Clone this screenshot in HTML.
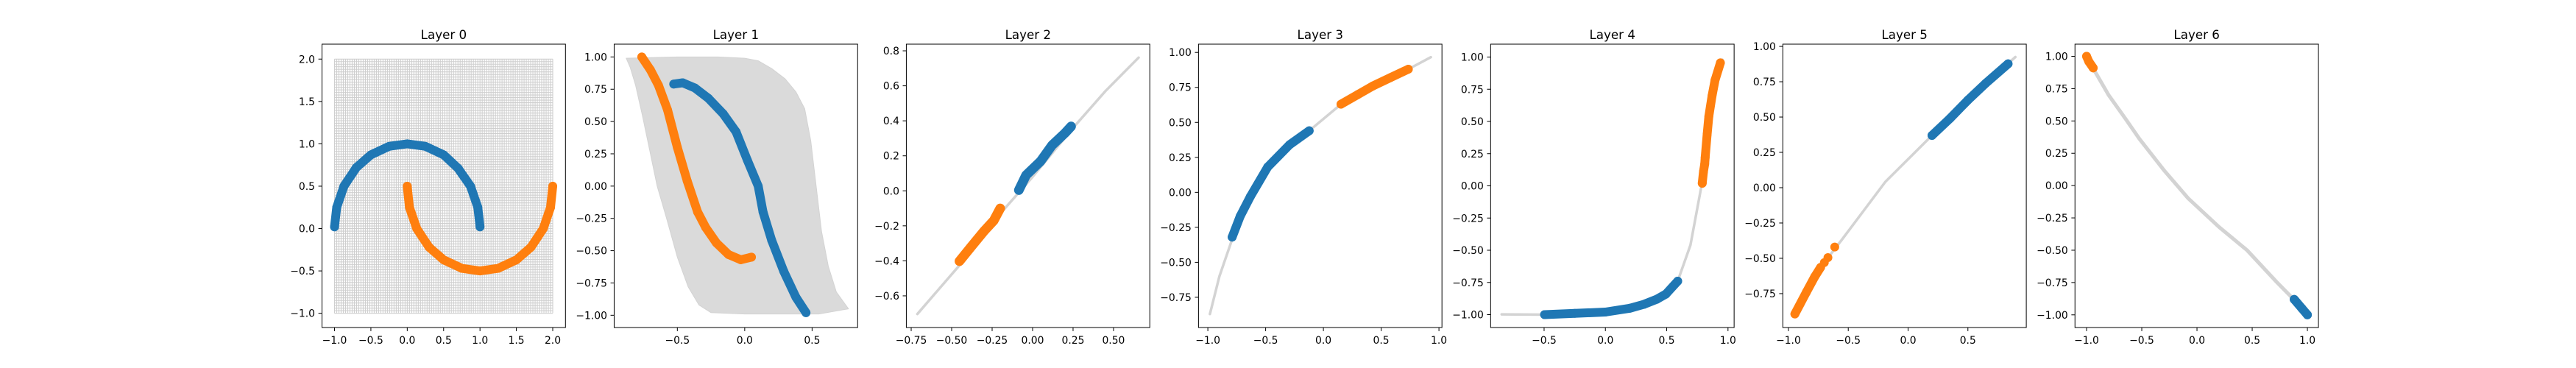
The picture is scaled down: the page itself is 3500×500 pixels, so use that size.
<!DOCTYPE html>
<html><head><meta charset="utf-8">
<style>
html,body{margin:0;padding:0;background:#fff;}
svg{display:block;font-family:"DejaVu Sans","Liberation Sans",sans-serif;}
</style></head>
<body>
<svg id="fig" width="3500" height="500" xmlns="http://www.w3.org/2000/svg"></svg>
<script>
// ---- data ----
const panelTitles = ["Layer 0","Layer 1","Layer 2","Layer 3","Layer 4","Layer 5","Layer 6"];
const xLims = [[-1.172,2.175],[-0.969,0.838],[-0.780,0.724],[-1.081,1.026],[-0.936,1.05],[-1.047,0.988],[-1.105,1.10]];
const yLims = [[-1.168,2.176],[-1.095,1.099],[-0.781,0.838],[-0.966,1.059],[-1.10,1.10],[-0.990,1.016],[-1.098,1.094]];
const xTicks = [[-1,-0.5,0,0.5,1,1.5,2],[-0.5,0,0.5],[-0.75,-0.5,-0.25,0,0.25,0.5],[-1,-0.5,0,0.5,1],[-0.5,0,0.5,1],[-1,-0.5,0,0.5],[-1,-0.5,0,0.5,1]];
const yTicks = [[-1,-0.5,0,0.5,1,1.5,2],[-1,-0.75,-0.5,-0.25,0,0.25,0.5,0.75,1],[-0.6,-0.4,-0.2,0,0.2,0.4,0.6,0.8],[-0.75,-0.5,-0.25,0,0.25,0.5,0.75,1],[-1,-0.75,-0.5,-0.25,0,0.25,0.5,0.75,1],[-0.75,-0.5,-0.25,0,0.25,0.5,0.75,1],[-1,-0.75,-0.5,-0.25,0,0.25,0.5,0.75,1]];
const xDigits = [1,1,2,1,1,1,1];
const yDigits = [1,2,1,2,2,2,2];

const blue0 = [[-1,0.02],[-0.97,0.25],[-0.87,0.5],[-0.7,0.72],[-0.5,0.87],[-0.25,0.97],[0,1.0],[0.25,0.97],[0.5,0.87],[0.7,0.71],[0.87,0.5],[0.97,0.25],[1.0,0.02]];
const orange0 = [[0,0.5],[0.03,0.25],[0.13,0],[0.3,-0.22],[0.5,-0.37],[0.75,-0.47],[1,-0.5],[1.25,-0.47],[1.5,-0.37],[1.7,-0.22],[1.87,0],[1.97,0.25],[2.0,0.5]];
const blue1 = [[-0.527,0.79],[-0.46,0.8],[-0.37,0.76],[-0.27,0.68],[-0.16,0.56],[-0.064,0.42],[0.02,0.2],[0.1,0.0],[0.136,-0.2],[0.2,-0.42],[0.29,-0.66],[0.38,-0.86],[0.455,-0.98]];
const orange1 = [[-0.764,1.0],[-0.7,0.9],[-0.64,0.78],[-0.573,0.59],[-0.5,0.3],[-0.427,0.04],[-0.35,-0.2],[-0.29,-0.32],[-0.21,-0.44],[-0.12,-0.53],[-0.03,-0.57],[0.05,-0.55]];
const sheet1 = [[-0.88,0.99],[-0.5,1.0],[-0.2,1.0],[0.0,0.99],[0.1,0.97],[0.2,0.91],[0.3,0.83],[0.38,0.73],[0.445,0.6],[0.49,0.35],[0.53,0.0],[0.57,-0.35],[0.62,-0.62],[0.68,-0.82],[0.77,-0.95],[0.55,-0.99],[0.3,-0.99],[0.0,-0.99],[-0.25,-0.98],[-0.34,-0.92],[-0.42,-0.78],[-0.5,-0.55],[-0.58,-0.25],[-0.65,0.0],[-0.71,0.3],[-0.76,0.55],[-0.81,0.78],[-0.85,0.92]];
const gray2 = [[-0.712,-0.704],[-0.4,-0.37],[-0.19,-0.12],[0,0.08],[0.25,0.36],[0.45,0.57],[0.655,0.761]];
const blue2 = [[-0.085,0.004],[-0.04,0.09],[0.05,0.17],[0.12,0.26],[0.2,0.33],[0.238,0.368]];
const orange2 = [[-0.452,-0.402],[-0.38,-0.32],[-0.30,-0.23],[-0.24,-0.17],[-0.2,-0.10]];
const gray3 = [[-0.982,-0.87],[-0.9,-0.6],[-0.8,-0.36],[-0.632,-0.03],[-0.483,0.18],[-0.293,0.34],[-0.123,0.44],[0.152,0.63],[0.428,0.76],[0.735,0.88],[0.93,0.966]];
const blue3 = [[-0.79,-0.32],[-0.72,-0.17],[-0.632,-0.03],[-0.483,0.18],[-0.293,0.34],[-0.123,0.44]];
const orange3 = [[0.152,0.63],[0.3,0.7],[0.428,0.76],[0.58,0.82],[0.735,0.88]];
const gray4 = [[-0.846,-0.998],[-0.496,-1.0],[0,-0.98],[0.314,-0.92],[0.494,-0.84],[0.59,-0.74],[0.694,-0.46],[0.784,0.0],[0.814,0.22],[0.844,0.54],[0.894,0.82],[0.954,0.98]];
const blue4 = [[-0.496,-1.0],[-0.25,-0.99],[0,-0.98],[0.2,-0.95],[0.314,-0.92],[0.42,-0.88],[0.494,-0.84],[0.59,-0.74]];
const orange4 = [[0.79,0.02],[0.8,0.11],[0.81,0.17],[0.814,0.22],[0.83,0.4],[0.844,0.54],[0.87,0.7],[0.894,0.82],[0.938,0.955]];
const gray5 = [[-0.946,-0.894],[-0.731,-0.564],[-0.555,-0.37],[-0.188,0.043],[0.2,0.37],[0.5,0.63],[0.897,0.925]];
const blue5 = [[0.2,0.37],[0.35,0.49],[0.5,0.62],[0.65,0.74],[0.836,0.877]];
const orange5 = [[-0.946,-0.894],[-0.85,-0.74],[-0.78,-0.63],[-0.731,-0.564]];
const orangeDots5 = [[-0.67,-0.495],[-0.613,-0.42],[-0.70,-0.53]];
const gray6 = [[-0.943,0.91],[-0.8,0.7],[-0.65,0.52],[-0.52,0.36],[-0.3,0.12],[-0.078,-0.1],[0.2,-0.32],[0.454,-0.5],[0.72,-0.745],[0.876,-0.88]];
const blue6 = [[0.88,-0.88],[0.95,-0.95],[1.0,-1.0]];
const orange6 = [[-1.0,1.0],[-0.98,0.96],[-0.94,0.91]];
const gridCount = 100;

// ---- drawing ----
const NS = "http://www.w3.org/2000/svg";
const svg = document.getElementById("fig");
const BLUE = "#1f77b4", ORANGE = "#ff7f0e", GRAY = "#d3d3d3";
const AX_W = 330.8, AX_H = 385, TOP = 60;
function mk(tag, attrs, parent){ const e = document.createElementNS(NS, tag); for (const k in attrs) e.setAttribute(k, attrs[k]); (parent||svg).appendChild(e); return e; }
function fmt(v,d){ return v.toFixed(d).replace("-", "\u2212"); }

for (let i = 0; i < 7; i++) {
  const L = 437.5 + i * 396.96;
  const xl = xLims[i], yl = yLims[i];
  const sx = v => L + (v - xl[0]) / (xl[1] - xl[0]) * AX_W;
  const sy = v => TOP + AX_H - (v - yl[0]) / (yl[1] - yl[0]) * AX_H;
  const g = mk("g", {});
  
  
  const clipId = "clip" + i;
  const cp = mk("clipPath", {id: clipId}, g);
  mk("rect", {x: L, y: TOP, width: AX_W, height: AX_H}, cp);
  const plot = mk("g", {"clip-path": "url(#" + clipId + ")"}, g);
  
  
  const pts = arr => arr.map(p => sx(p[0]).toFixed(1) + "," + sy(p[1]).toFixed(1)).join(" ");
  function line(arr, color, w, name) {
    const e = mk("polyline", {points: pts(arr), fill: "none", stroke: color, "stroke-width": w, "stroke-linecap": "round", "stroke-linejoin": "round"}, plot);
    
    
  }
  function dots(arr, color, r, name) {
    arr.forEach(p => {
      const c = mk("circle", {cx: sx(p[0]), cy: sy(p[1]), r: r, fill: color}, plot);
      
      
    });
  }
  if (i === 0) {
    for (let k = 0; k < gridCount; k++) {
      const v = -1 + 3 * k / (gridCount - 1);
      const a = mk("line", {x1: sx(v), x2: sx(v), y1: sy(-1), y2: sy(2), stroke: "#cfcfcf", "stroke-width": 1.1}, plot);
      
      
      const b = mk("line", {x1: sx(-1), x2: sx(2), y1: sy(v), y2: sy(v), stroke: "#cfcfcf", "stroke-width": 1.1}, plot);
      
      
    }
    line(blue0, BLUE, 12, 'class-0-points'); dots(blue0, BLUE, 6, 'class-0-point');
    line(orange0, ORANGE, 12, 'class-1-points'); dots(orange0, ORANGE, 6, 'class-1-point');
  } else if (i === 1) {
    const s = mk("polygon", {points: pts(sheet1), fill: "#dadada", stroke: "#d3d3d3", "stroke-width": 1, "stroke-linejoin": "round"}, plot);
    
    
    line(orange1, ORANGE, 12, 'class-1-points'); dots(orange1, ORANGE, 6, 'class-1-point');
    line(blue1, BLUE, 12, 'class-0-points'); dots(blue1, BLUE, 6, 'class-0-point');
  } else {
    const G = [null,null,gray2,gray3,gray4,gray5,gray6][i];
    const B = [null,null,blue2,blue3,blue4,blue5,blue6][i];
    const O = [null,null,orange2,orange3,orange4,orange5,orange6][i];
    line(G, GRAY, i === 6 ? 5 : 3.5, 'transformed-grid-curve');
    const w = i === 2 ? 13 : 12;
    line(B, BLUE, w, 'class-0-points'); dots(B, BLUE, 6, 'class-0-point');
    line(O, ORANGE, w, 'class-1-points'); dots(O, ORANGE, 6, 'class-1-point');
    if (i === 5) dots(orangeDots5, ORANGE, 6, 'class-1-point');
  }
  const fr = mk("rect", {x: L, y: TOP, width: AX_W, height: AX_H, fill: "none", stroke: "#000", "stroke-width": 1}, g);
  
  
  xTicks[i].forEach(v => {
    const x = sx(v);
    const t = mk("line", {x1: x, x2: x, y1: TOP + AX_H, y2: TOP + AX_H + 4.9, stroke: "#000", "stroke-width": 1}, g);
    
    
    const tx = mk("text", {x: x, y: TOP + AX_H + 22, "font-size": 13.9, "text-anchor": "middle", fill: "#000"}, g);
    tx.textContent = fmt(v, xDigits[i]);
    
    
  });
  yTicks[i].forEach(v => {
    const y = sy(v);
    const t = mk("line", {x1: L - 4.9, x2: L, y1: y, y2: y, stroke: "#000", "stroke-width": 1}, g);
    
    
    const tx = mk("text", {x: L - 9.5, y: y + 5, "font-size": 13.9, "text-anchor": "end", fill: "#000"}, g);
    tx.textContent = fmt(v, yDigits[i]);
    
    
  });
  const title = mk("text", {x: L + AX_W / 2, y: 53, "font-size": 16.7, "text-anchor": "middle", fill: "#000"}, g);
  title.textContent = panelTitles[i];
  
  
}
</script>
</body></html>
